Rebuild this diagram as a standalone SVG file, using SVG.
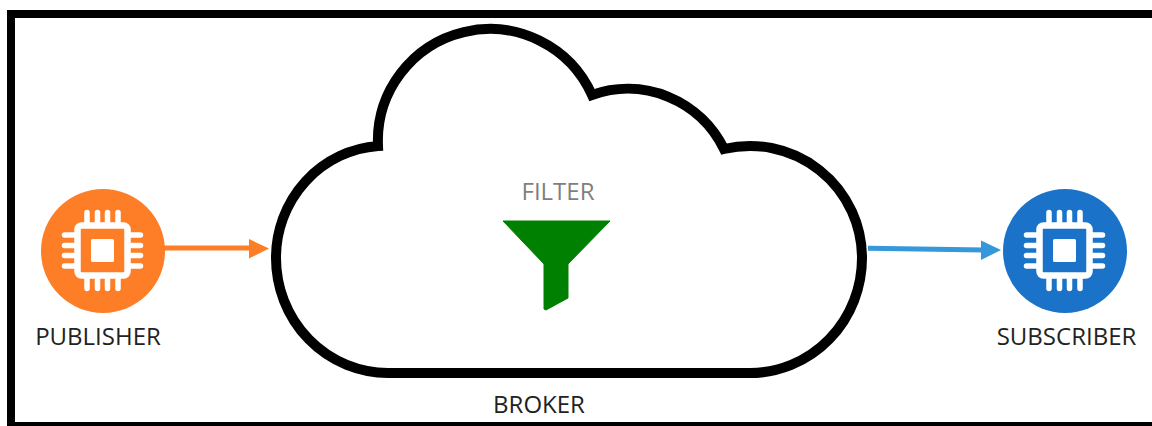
<svg xmlns="http://www.w3.org/2000/svg" width="1152" height="426" viewBox="0 0 1152 426">
<style>
.lbl{font-family:"Open Sans","Liberation Sans",sans-serif;font-size:24px;fill:#222;text-anchor:middle}
.pin{stroke:#fff;stroke-width:5.500;stroke-linecap:round;fill:none}
</style>
<defs>
<g id="chip">
<path class="pin" d="M-15.500 -38V-27M-5 -38V-27M5 -38V-27M15.500 -38V-27M-15.500 38V27M-5 38V27M5 38V27M15.500 38V27M-38 -15.500H-27M-38 -5H-27M-38 5H-27M-38 15.500H-27M38 -15.500H27M38 -5H27M38 5H27M38 15.500H27"/>
<rect x="-25" y="-25" width="50" height="50" rx="4" fill="none" stroke="#fff" stroke-width="6.500"/>
<rect x="-11.500" y="-11.500" width="23" height="23" rx="1.500" fill="#fff"/>
</g>
</defs>
<rect width="1152" height="426" fill="#fff"/>
<path id="frame" d="M7 10H1152V18H15V422H1152V426H7Z" fill="#000"/>
<g id="connectors">
<path d="M164 248H252" stroke="#fd7e27" stroke-width="5" fill="none"/>
<path d="M249 239L269 248.500L249 258.500Z" fill="#fd7e27"/>
<path d="M868 248.300L984 250" stroke="#3498db" stroke-width="5" fill="none"/>
<path d="M981 240.500L1001 250L981 260Z" fill="#3498db"/>
</g>
<g id="broker">
<path d="M378 146A112 112 0 0 1 592 95A107 107 0 0 1 724 149A112 112 0 0 1 862 258A112 115 0 0 1 750 373H388A112 115 0 0 1 276 258A110 112 0 0 1 378 146Z" fill="#fff" stroke="#000" stroke-width="10"/>
<text class="lbl" x="539" y="413">BROKER</text>
</g>
<g id="filter">
<text class="lbl" x="558" y="200" style="fill:#7f7f7f">FILTER</text>
<path d="M503 221H610L568 264V298L546 310L544 309V264Z" fill="#008000" stroke="#008000" stroke-width="1" stroke-linejoin="round"/>
</g>
<g id="publisher">
<circle cx="103" cy="251" r="62" fill="#fd7e27"/>
<use href="#chip" x="102.500" y="250.500"/>
<text class="lbl" x="98" y="345">PUBLISHER</text>
</g>
<g id="subscriber">
<circle cx="1065" cy="251" r="62" fill="#1a73c8"/>
<use href="#chip" x="1064.500" y="250.500"/>
<text class="lbl" x="1066.500" y="345">SUBSCRIBER</text>
</g>
</svg>
